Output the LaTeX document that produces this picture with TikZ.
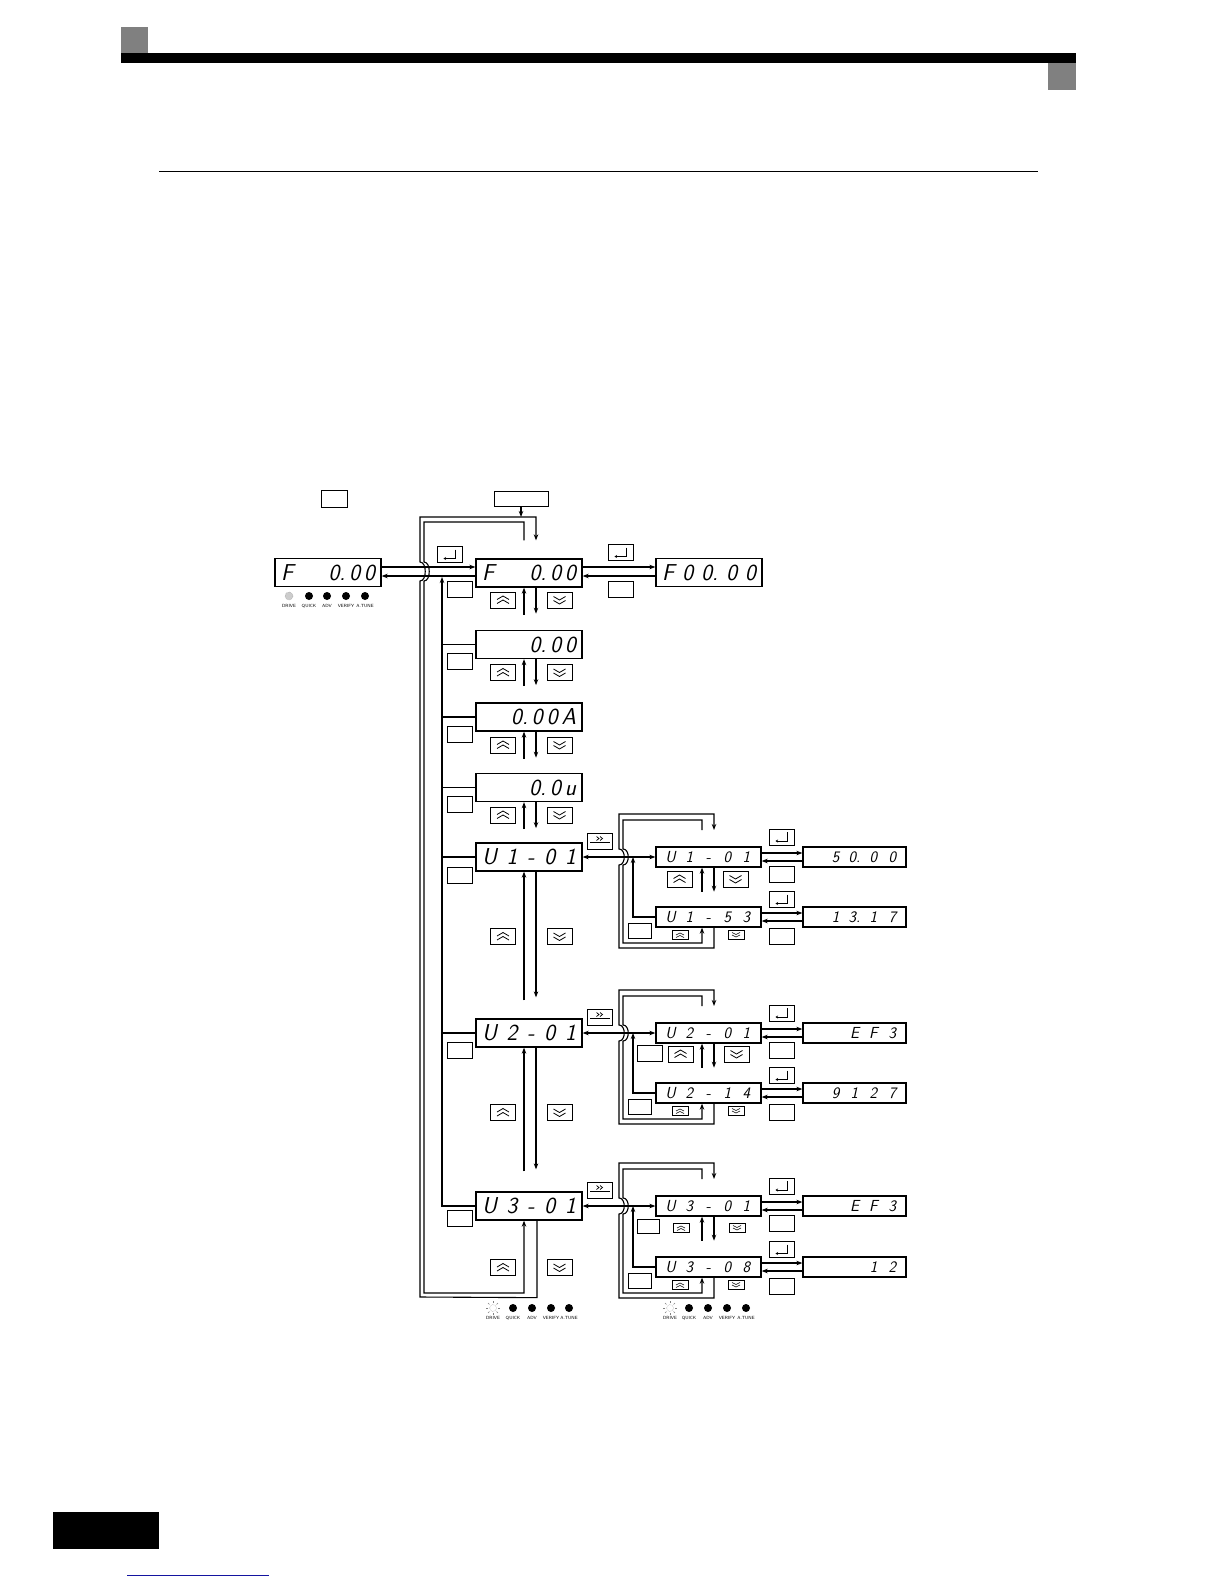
\documentclass[tikz,border=0pt]{standalone}
\usepackage{fontspec}
\usetikzlibrary{arrows.meta}

\definecolor{linkblue}{RGB}{20,20,160}
\newcommand\segbig{\fontsize{23}{23}\selectfont\sffamily\slshape}
\newcommand\segsmall{\fontsize{16}{16}\selectfont\sffamily\slshape}
\newcommand\dg[1]{\makebox[19pt][c]{#1}}

\tikzset{
  flow/.style={line width=1.1pt},
  disp/.style={draw, line width=1.3pt, minimum width=106, minimum height=28, inner sep=0pt, font=\segbig},
  subdisp/.style={draw, line width=1.3pt, minimum width=105, minimum height=20, inner sep=0pt, font=\segsmall},
  keybox/.style={draw, line width=0.9pt, minimum width=25, minimum height=16, inner sep=0pt},
  smallkey/.style={draw, line width=0.8pt, minimum width=16, minimum height=9, inner sep=0pt},
  upkey/.style={keybox, path picture={
    \draw[line width=0.8pt] ([shift={(-6pt,0.5pt)}]path picture bounding box.center) -- ++(6pt,3.5pt) -- ++(6pt,-3.5pt);
    \draw[line width=0.8pt] ([shift={(-6pt,-3.5pt)}]path picture bounding box.center) -- ++(6pt,3.5pt) -- ++(6pt,-3.5pt);}},
  downkey/.style={keybox, path picture={
    \draw[line width=0.8pt] ([shift={(-6pt,3.5pt)}]path picture bounding box.center) -- ++(6pt,-3.5pt) -- ++(6pt,3.5pt);
    \draw[line width=0.8pt] ([shift={(-6pt,-0.5pt)}]path picture bounding box.center) -- ++(6pt,-3.5pt) -- ++(6pt,3.5pt);}},
  upsmall/.style={smallkey, path picture={
    \draw[line width=0.6pt] ([shift={(-4pt,0pt)}]path picture bounding box.center) -- ++(4pt,2pt) -- ++(4pt,-2pt);
    \draw[line width=0.6pt] ([shift={(-4pt,-2.5pt)}]path picture bounding box.center) -- ++(4pt,2pt) -- ++(4pt,-2pt);}},
  downsmall/.style={smallkey, path picture={
    \draw[line width=0.6pt] ([shift={(-4pt,2.5pt)}]path picture bounding box.center) -- ++(4pt,-2pt) -- ++(4pt,2pt);
    \draw[line width=0.6pt] ([shift={(-4pt,0pt)}]path picture bounding box.center) -- ++(4pt,-2pt) -- ++(4pt,2pt);}},
  enterkey/.style={keybox, path picture={
    \draw[line width=0.8pt, -{Stealth[length=2.5pt,width=3pt]}] ([shift={(6pt,5pt)}]path picture bounding box.center) -- ++(0pt,-9pt) -- ++(-12pt,0pt);}},
  shiftkey/.style={keybox, path picture={
    \draw[line width=0.7pt] ([shift={(-3.5pt,4.5pt)}]path picture bounding box.center) -- ++(2.5pt,-2pt) -- ++(-2.5pt,-2pt);
    \draw[line width=0.7pt] ([shift={(0pt,4.5pt)}]path picture bounding box.center) -- ++(2.5pt,-2pt) -- ++(-2.5pt,-2pt);
    \draw[line width=0.8pt] ([shift={(-10pt,-1pt)}]path picture bounding box.center) -- ++(20pt,0pt);}},
  ledlabel/.style={font=\fontsize{4.5}{5}\selectfont\sffamily, inner sep=0pt},
}

\begin{document}
\begin{tikzpicture}[x=1pt, y=-1pt, >={Stealth[length=6pt,width=4.5pt]}]
\useasboundingbox (0,0) rectangle (1224,1584);
\fill[white] (0,0) rectangle (1224,1584);

% page frame
\fill[gray] (121,27) rectangle (148,53);
\fill (121,53) rectangle (1076,63);
\fill[gray] (1048,63) rectangle (1076,90);
\draw[line width=1pt] (159,171) -- (1038,171);
\fill (53,1512) rectangle (159,1549);
\draw[linkblue, line width=1pt] (127,1575) -- (269,1575);

% keys on top
\node[keybox, minimum width=26, minimum height=17] (mode) at (334,498.5) {};
\node[keybox, minimum width=54, minimum height=15] (prog) at (521,498.5) {};

% main displays
\node[disp] (left) at (328,572.5) {\makebox[94pt]{F\hfill 0.\kern4pt0\kern4pt0}};
\node[disp] (fref) at (529,573) {\makebox[94pt]{F\hfill 0.\kern4pt0\kern4pt0}};
\node[disp] (fmon) at (709,572.5) {\makebox[94pt]{F\hfill 0\hfill 0.\hfill 0\hfill 0}};
\node[disp] (dout) at (529,644.5) {\makebox[94pt][r]{0.\kern4pt0\kern4pt0}};
\node[disp] (dcur) at (529,717) {\makebox[94pt][r]{0.\kern4pt0\kern4pt0\kern4pt A}};
\node[disp] (dvol) at (529,787.5) {\makebox[94pt][r]{0.\kern4pt0\kern4pt u}};
\node[disp] (ua) at (529,857) {\makebox[94pt]{U\hfill 1\hfill -\hfill 0\hfill 1}};
\node[disp] (ub) at (529,1033) {\makebox[94pt]{U\hfill 2\hfill -\hfill 0\hfill 1}};
\node[disp] (uc) at (529,1206) {\makebox[94pt]{U\hfill 3\hfill -\hfill 0\hfill 1}};

\foreach \n/\y in {fref/600, dout/672.5, dcur/745, dvol/815, ua/936.5, ub/1112.5, uc/1267.5} {
  \node[upkey] (up-\n) at (503,\y) {};
  \node[downkey] (dn-\n) at (559.5,\y) {};
}
\foreach \n/\y in {fref/589.5, dout/661.5, dcur/734.5, dvol/804.5, ua/875, ub/1050.5, uc/1218}
  \node[keybox] (esc-\n) at (459.5,\y) {};

\node[enterkey] (ent-l) at (449.5,554.5) {};
\node[enterkey] (ent-r) at (620.5,552.5) {};
\node[keybox] (esc-r) at (620.5,589.5) {};

\draw[flow,->] ([yshift=5.5]left.east) -- ([yshift=6]fref.west);
\draw[flow,->] ([yshift=-3]fref.west) -- ([yshift=-3.5]left.east);
\draw[flow,->] ([yshift=6]fref.east) -- ([yshift=5.5]fmon.west);
\draw[flow,->] ([yshift=-3.5]fmon.west) -- ([yshift=-3]fref.east);

\foreach \n in {fref,dout,dcur,dvol} {
  \draw[flow,->] ([xshift=-5,yshift=-27]\n.south) -- ([xshift=-5]\n.south);
  \draw[flow,->] ([xshift=7]\n.south) -- ([xshift=7,yshift=-26]\n.south);
}
\draw[flow,->] ([xshift=-5,yshift=18]ub.north) -- ([xshift=-5]ua.south);
\draw[flow,->] ([xshift=7]ua.south) -- ([xshift=7,yshift=21]ub.north);
\draw[flow,->] ([xshift=-5,yshift=20]uc.north) -- ([xshift=-5]ub.south);
\draw[flow,->] ([xshift=7]ub.south) -- ([xshift=7,yshift=22]uc.north);

% wrap round loop
\draw[flow,->] ([xshift=8]uc.south) -- ++(0,77) -- (420,1297) -- (420,581)
  .. controls (427,581) and (427,562) .. (420,562) -- (420,517) -- (536,517)
  -- ([xshift=7,yshift=18]fref.north);
\draw[flow,->] ([xshift=-5,yshift=18]fref.north) -- (524,522) -- (424,522) -- (424,562)
  .. controls (431,562) and (431,581) .. (424,581) -- (424,1293) -- (524,1293)
  -- ([xshift=-5]uc.south);
\draw[flow,->] (prog.south) -- (521,517);

\draw[flow,->] (uc.west) -- (442,1206) -- (442,577);
\foreach \n in {dout,dcur,dvol,ua,ub}
  \draw[flow] (\n.west) -- ++(-34,0);

% leds
\draw[gray, densely dotted, fill=gray!40] (289,596) circle (4pt);
\foreach \x in {309,327,346,365}
  \fill (\x,596) circle (4pt);
\foreach \x/\t in {289/DRIVE,309/QUICK,327/ADV,346/VERIFY,365/A.TUNE}
  \node[ledlabel] (lbl-\x) at (\x,606) {\t};

\foreach \s in {493,670} {
  \draw[gray, densely dotted] (\s,1308) circle (3.5pt);
  \foreach \a in {0,45,...,315}
    \draw[gray, line width=0.4pt] (\s,1308) ++(\a:5pt) -- ++(\a:2pt);
}
\foreach \x in {513,532,551,569,689,708,727,746}
  \fill (\x,1308) circle (4pt);
\foreach \x/\t in {493/DRIVE,513/QUICK,532/ADV,551/VERIFY,569/A.TUNE,670/DRIVE,689/QUICK,708/ADV,727/VERIFY,746/A.TUNE}
  \node[ledlabel] (lbl-\x) at (\x,1318) {\t};

% monitor sub menus
\node[subdisp] (sa1) at (708.5,857) {\dg{U}\dg{1}\dg{-}\dg{0}\dg{1}};
\node[subdisp] (sb1) at (708.5,917) {\dg{U}\dg{1}\dg{-}\dg{5}\dg{3}};
\node[subdisp, minimum width=103] (va1) at (854.5,857) {\makebox[95pt][r]{\dg{5}\dg{0.}\dg{0}\dg{0}}};
\node[subdisp, minimum width=103] (vb1) at (854.5,917) {\makebox[95pt][r]{\dg{1}\dg{3.}\dg{1}\dg{7}}};
\node[subdisp] (sa2) at (708.5,1033) {\dg{U}\dg{2}\dg{-}\dg{0}\dg{1}};
\node[subdisp] (sb2) at (708.5,1093) {\dg{U}\dg{2}\dg{-}\dg{1}\dg{4}};
\node[subdisp, minimum width=103] (va2) at (854.5,1033) {\makebox[95pt][r]{\dg{E}\dg{F}\dg{3}}};
\node[subdisp, minimum width=103] (vb2) at (854.5,1093) {\makebox[95pt][r]{\dg{9}\dg{1}\dg{2}\dg{7}}};
\node[subdisp] (sa3) at (708.5,1206) {\dg{U}\dg{3}\dg{-}\dg{0}\dg{1}};
\node[subdisp] (sb3) at (708.5,1267) {\dg{U}\dg{3}\dg{-}\dg{0}\dg{8}};
\node[subdisp, minimum width=103] (va3) at (854.5,1206) {\makebox[95pt][r]{\dg{E}\dg{F}\dg{3}}};
\node[subdisp, minimum width=103] (vb3) at (854.5,1267) {\makebox[95pt][r]{\dg{1}\dg{2}}};

\node[upkey] (kau1) at (679.5,879) {};
\node[downkey] (kad1) at (735.5,879) {};
\node[upkey] (kau2) at (680.5,1054) {};
\node[downkey] (kad2) at (736.5,1054) {};
\node[keybox] (kal2) at (649.5,1053) {};
\node[upsmall] (kau3) at (681,1228) {};
\node[downsmall] (kad3) at (737,1228) {};
\node[keybox, minimum width=22, minimum height=14] (kal3) at (648,1226) {};

\foreach \k/\m/\ya/\yb in {1/ua/857/917, 2/ub/1033/1093, 3/uc/1206/1267} {
  \draw[flow,<->] (\m.east) -- (sa\k.west);
  \node[shiftkey] (sh\k) at (600,\ya-16) {};
  \draw[flow,->] ([xshift=5.5]sb\k.south) -- (714,\yb+31) -- (619,\yb+31) -- (619,\ya+8)
    .. controls (626,\ya+8) and (626,\ya-8) .. (619,\ya-8) -- (619,\ya-43) -- (714,\ya-43) -- (714,\ya-27);
  \draw[flow,->] (702,\ya-27) -- (702,\ya-37) -- (623,\ya-37) -- (623,\ya-8)
    .. controls (630,\ya-8) and (630,\ya+8) .. (623,\ya+8) -- (623,\yb+26) -- (702,\yb+26)
    -- ([xshift=-6.5]sb\k.south);
  \draw[flow,->] (sb\k.west) -- (633,\yb) -- (633,\ya);
  \draw[flow,->] ([xshift=-6.5,yshift=-24]sa\k.south) -- ([xshift=-6.5]sa\k.south);
  \draw[flow,->] ([xshift=5.5]sa\k.south) -- ([xshift=5.5,yshift=-24]sa\k.south);
  \draw[flow,->] ([yshift=4]sa\k.east) -- ([yshift=4]va\k.west);
  \draw[flow,->] ([yshift=-4]va\k.west) -- ([yshift=-4]sa\k.east);
  \draw[flow,->] ([yshift=4]sb\k.east) -- ([yshift=4]vb\k.west);
  \draw[flow,->] ([yshift=-4]vb\k.west) -- ([yshift=-4]sb\k.east);
  \node[enterkey] (ea\k) at (781.5,\ya-20) {};
  \node[keybox] (xa\k) at (781.5,\ya+17) {};
  \node[enterkey] (eb\k) at (781.5,\yb-17.5) {};
  \node[keybox] (xb\k) at (781.5,\yb+19.5) {};
  \node[upsmall] (kbu\k) at (680,\yb+18) {};
  \node[downsmall] (kbd\k) at (736,\yb+18) {};
  \node[keybox, minimum width=23, minimum height=15] (kbl\k) at (640,\yb+13.5) {};
}
\end{tikzpicture}
\end{document}
